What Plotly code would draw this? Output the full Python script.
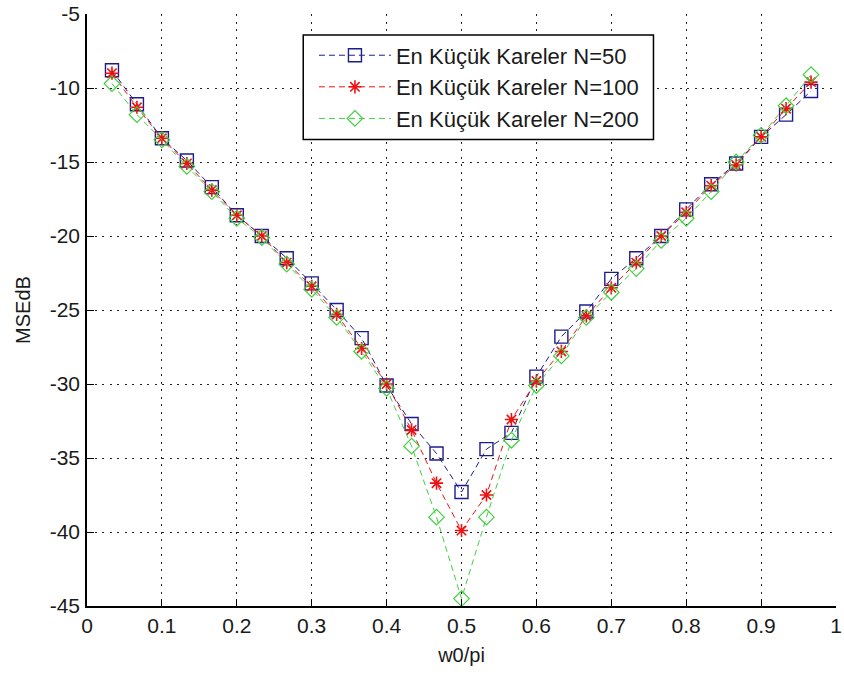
import plotly.graph_objects as go

# normalised frequency grid w0/pi = k/30, k = 1..29
k_index = list(range(1, 30))
w0_over_pi = [k / 30 for k in k_index]

mse_n50 = [-8.8, -11.1, -13.4, -14.9, -16.7, -18.6, -20.0, -21.5, -23.2, -25.0,
           -26.9, -30.1, -32.7, -34.7, -37.3, -34.4, -33.3, -29.5, -26.8, -25.1,
           -22.9, -21.5, -20.0, -18.2, -16.5, -15.1, -13.3, -11.8, -10.2]
mse_n100 = [-9.0, -11.3, -13.4, -15.1, -16.9, -18.6, -20.0, -21.8, -23.4, -25.3,
            -27.6, -30.0, -33.1, -36.7, -39.9, -37.5, -32.4, -29.8, -27.8, -25.4,
            -23.5, -21.8, -20.0, -18.4, -16.6, -15.2, -13.3, -11.4, -9.6]
mse_n200 = [-9.7, -11.8, -13.5, -15.3, -17.0, -18.8, -20.1, -21.9, -23.6, -25.5,
            -27.8, -30.3, -34.2, -39.0, -44.5, -39.0, -33.8, -30.1, -28.1, -25.5,
            -23.8, -22.2, -20.3, -18.8, -17.0, -15.0, -13.2, -11.2, -9.1]

series_names = ["En Küçük Kareler N=50", "En Küçük Kareler N=100", "En Küçük Kareler N=200"]

x_ticks = [0, 0.1, 0.2, 0.3, 0.4, 0.5, 0.6, 0.7, 0.8, 0.9, 1]
x_tick_text = ["0", "0.1", "0.2", "0.3", "0.4", "0.5", "0.6", "0.7", "0.8", "0.9", "1"]
y_ticks = [-45, -40, -35, -30, -25, -20, -15, -10, -5]
y_tick_text = ["-45", "-40", "-35", "-30", "-25", "-20", "-15", "-10", "-5"]

BLUE, RED, GREEN = "#1c1c8c", "#ee1111", "#3fd03f"
DASH = "6px,4px"

fig = go.Figure()
fig.add_trace(go.Scatter(
    x=w0_over_pi, y=mse_n50, name=series_names[0], mode="lines+markers",
    line=dict(color=BLUE, width=1, dash=DASH),
    marker=dict(symbol="square-open", size=13, color=BLUE, line=dict(width=1.4)),
))
fig.add_trace(go.Scatter(
    x=w0_over_pi, y=mse_n100, name=series_names[1], mode="lines+markers",
    line=dict(color=RED, width=1, dash=DASH),
    marker=dict(symbol="asterisk-open", size=11, color=RED, line=dict(width=1.6, color=RED)),
))
fig.add_trace(go.Scatter(
    x=w0_over_pi, y=mse_n200, name=series_names[2], mode="lines+markers",
    line=dict(color=GREEN, width=1, dash=DASH),
    marker=dict(symbol="diamond-open", size=12, color=GREEN, line=dict(width=1.2)),
))

tick_font = dict(family="Liberation Sans, Arial, sans-serif", size=21, color="#1a1a1a")
grid_dash = "2px,5.5px"

# legend frame, drawn over the grid
fig.add_shape(type="rect", xref="paper", yref="paper",
              x0=0.2887, x1=0.7563, y0=0.7879, y1=0.9646,
              line=dict(color="black", width=1.5), fillcolor="white", layer="above")

fig.update_layout(
    width=844, height=675,
    margin=dict(l=87, r=2, t=12, b=69),
    paper_bgcolor="white", plot_bgcolor="white",
    font=tick_font,
    showlegend=True,
    legend=dict(
        x=0.303, y=0.9655, xanchor="left", yanchor="top",
        bgcolor="rgba(0,0,0,0)", borderwidth=0,
        font=dict(family="Liberation Sans, Arial, sans-serif", size=22, color="#1a1a1a"),
        itemwidth=72, tracegroupgap=0,
    ),
    xaxis=dict(
        range=[0, 1], tickvals=x_ticks, ticktext=x_tick_text,
        showgrid=True, gridcolor="#222222", gridwidth=1, griddash=grid_dash,
        showline=True, linecolor="black", linewidth=1.5, mirror=False,
        ticks="inside", ticklen=7, tickcolor="black", zeroline=False,
        ticklabeloverflow="allow",
        title=dict(text="w0/pi", standoff=12,
                   font=dict(family="Liberation Sans, Arial, sans-serif", size=20, color="#1a1a1a")),
    ),
    yaxis=dict(
        range=[-45, -5], tickvals=y_ticks, ticktext=y_tick_text,
        showgrid=True, gridcolor="#222222", gridwidth=1, griddash=grid_dash,
        showline=True, linecolor="black", linewidth=1.5, mirror=False,
        ticks="inside", ticklen=7, tickcolor="black", zeroline=False,
        ticklabelstandoff=1,
        title=dict(text="MSEdB", standoff=14,
                   font=dict(family="Liberation Sans Narrow, Liberation Sans, Arial, sans-serif",
                             size=20, color="#1a1a1a")),
    ),
)

fig.write_html("out.html")
